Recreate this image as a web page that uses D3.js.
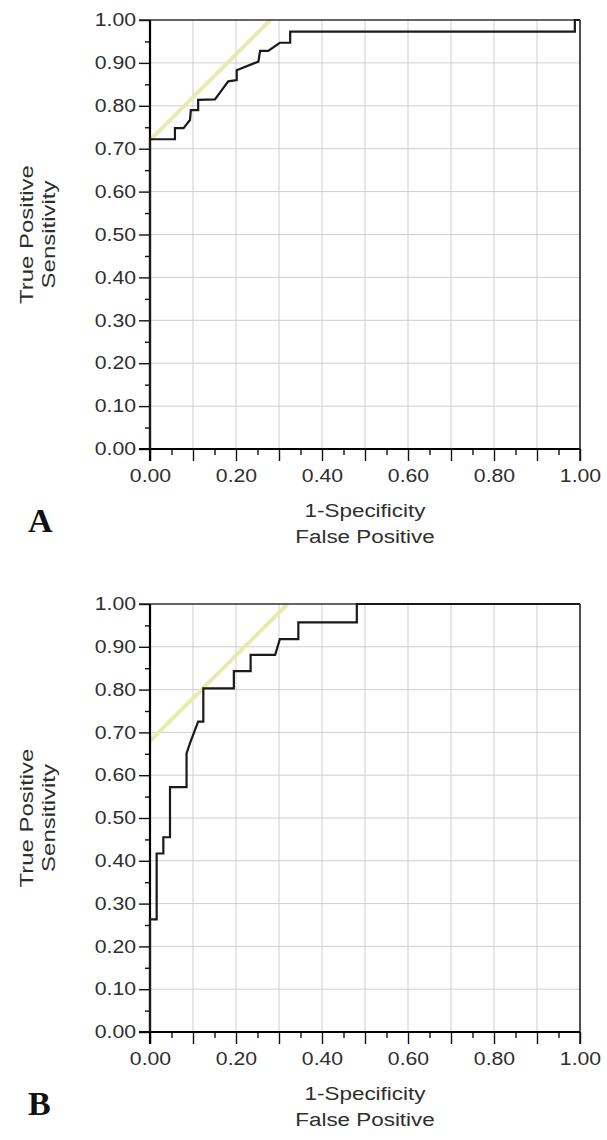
<!DOCTYPE html>
<html><head><meta charset="utf-8">
<script src="https://cdn.jsdelivr.net/npm/d3@7"></script>
<style>
html,body{margin:0;padding:0;background:#fff;}
svg{display:block;}
</style></head>
<body>
<script>
// ---- data ----
const majorTicks = [0,0.1,0.2,0.3,0.4,0.5,0.6,0.7,0.8,0.9,1.0];
const minorTicks = [0.05,0.15,0.25,0.35,0.45,0.55,0.65,0.75,0.85,0.95];
const xLabelTicks = [0,0.2,0.4,0.6,0.8,1.0];
const yLabelTicks = [0,0.1,0.2,0.3,0.4,0.5,0.6,0.7,0.8,0.9,1.0];

const rocA_fpr = [0,0,0.058,0.058,0.078,0.093,0.095,0.112,0.112,0.151,0.182,0.2016,0.2016,0.252,0.256,0.275,0.302,0.326,0.326,0.988,0.988,1];
const rocA_tpr = [0,0.722,0.722,0.748,0.748,0.767,0.790,0.790,0.814,0.815,0.857,0.860,0.883,0.903,0.928,0.928,0.947,0.947,0.973,0.973,1.0,1.0];
const rocB_fpr = [0,0,0.0155,0.0155,0.031,0.031,0.0465,0.0465,0.085,0.085,0.093,0.112,0.124,0.124,0.195,0.195,0.234,0.234,0.291,0.302,0.345,0.345,0.481,0.481,1];
const rocB_tpr = [0,0.263,0.263,0.417,0.417,0.455,0.455,0.572,0.572,0.651,0.675,0.725,0.725,0.803,0.803,0.843,0.843,0.881,0.881,0.918,0.918,0.957,0.957,1.0,1.0];
const tangentA = 0.72;   // intercept of 45° tangent line
const tangentB = 0.68;

const panels = [
  {letter:"A", fpr:rocA_fpr, tpr:rocA_tpr, c:tangentA, top:20, bottom:449},
  {letter:"B", fpr:rocB_fpr, tpr:rocB_tpr, c:tangentB, top:604, bottom:1032}
];

const W = 607, H = 1140;
const svg = d3.select("body").append("svg").attr("width",W).attr("height",H);
const left = 150, right = 580;
const SX = 1.18; // horizontal stretch of text
const SANS = '"Liberation Sans",Arial,sans-serif';
const SERIF = '"Liberation Serif","Times New Roman",serif';

panels.forEach(p => {
  const x = d3.scaleLinear().domain([0,1]).range([left,right]);
  const y = d3.scaleLinear().domain([0,1]).range([p.bottom,p.top]);
  const g = svg.append("g");

  // grid
  g.selectAll(".gx").data(majorTicks.slice(1,-1)).join("line")
    .attr("x1",d=>x(d)).attr("x2",d=>x(d)).attr("y1",y(0)).attr("y2",y(1))
    .attr("stroke","#cfcfcf").attr("stroke-width",1);
  g.selectAll(".gy").data(majorTicks.slice(1,-1)).join("line")
    .attr("y1",d=>y(d)).attr("y2",d=>y(d)).attr("x1",x(0)).attr("x2",x(1))
    .attr("stroke","#cfcfcf").attr("stroke-width",1);

  // tangent line (45°)
  g.append("line")
    .attr("x1",x(0)).attr("y1",y(p.c)).attr("x2",x(1-p.c)).attr("y2",y(1))
    .attr("stroke","#e8eab0").attr("stroke-width",4).attr("stroke-linecap","butt");

  // frame top/right
  g.append("line").attr("x1",x(0)-11).attr("x2",x(1)).attr("y1",y(1)).attr("y2",y(1))
    .attr("stroke","#333").attr("stroke-width",1.6);
  g.append("line").attr("x1",x(1)).attr("x2",x(1)).attr("y1",y(1)).attr("y2",y(0)+12)
    .attr("stroke","#222").attr("stroke-width",1.6);

  // axes
  const yAxis = d3.axisLeft(y).tickValues(yLabelTicks).tickSize(11).tickPadding(3)
    .tickFormat(d3.format(".2f"));
  const yMinor = d3.axisLeft(y).tickValues(minorTicks).tickSize(5).tickFormat("");
  const xAxis = d3.axisBottom(x).tickValues(majorTicks).tickSize(12).tickPadding(8)
    .tickFormat(d => xLabelTicks.some(v=>Math.abs(v-d)<1e-9) ? d3.format(".2f")(d) : "");
  const xMinor = d3.axisBottom(x).tickValues(minorTicks).tickSize(6).tickFormat("");

  [yAxis,yMinor].forEach(a => {
    const ag = g.append("g").attr("transform",`translate(${left},0)`).call(a);
    ag.select(".domain").remove();
    ag.selectAll("line").attr("stroke","#111").attr("stroke-width",1.4);
  });
  [xAxis,xMinor].forEach(a => {
    const ag = g.append("g").attr("transform",`translate(0,${p.bottom})`).call(a);
    ag.select(".domain").remove();
    ag.selectAll("line").attr("stroke","#111").attr("stroke-width",1.4);
  });
  g.selectAll(".tick text").style("font-size","18px").style("fill","#2e2e2e")
    .style("font-family",SANS);
  g.selectAll(".tick text").each(function(){
    const t = d3.select(this);
    const xx = +t.attr("x")||0;
    t.attr("transform",`translate(${xx},0) scale(${SX},1) translate(${-xx},0)`);
  });

  g.append("line").attr("x1",x(0)).attr("x2",x(0)).attr("y1",y(1)).attr("y2",y(0)+12)
    .attr("stroke","#000").attr("stroke-width",2.2);
  g.append("line").attr("x1",x(0)-11).attr("x2",x(1)).attr("y1",y(0)).attr("y2",y(0))
    .attr("stroke","#000").attr("stroke-width",2.2);

  // ROC curve
  const pts = p.fpr.map((f,i)=>[f,p.tpr[i]]);
  g.append("path").datum(pts)
    .attr("d", d3.line().x(d=>x(d[0])).y(d=>y(d[1])))
    .attr("fill","none").attr("stroke","#1a1a1a").attr("stroke-width",2.2)
    .attr("stroke-linejoin","miter");

  // titles
  const cx = (left+right)/2, cy = (p.top+p.bottom)/2;
  const xt = g.append("g").attr("transform",`translate(${cx},${p.bottom+68}) scale(${SX},1)`);
  xt.append("text").attr("text-anchor","middle").style("font-size","19px").style("font-family",SANS)
    .style("fill","#2e2e2e").text("1-Specificity");
  xt.append("text").attr("text-anchor","middle").style("font-size","19px").style("font-family",SANS)
    .style("fill","#2e2e2e").attr("y",26).text("False Positive");

  const yt = g.append("g").attr("transform",`translate(33,${cy}) rotate(-90) scale(1.26,1)`);
  yt.append("text").attr("text-anchor","middle").style("font-size","19px").style("font-family",SANS)
    .style("fill","#2e2e2e").text("True Positive");
  yt.append("text").attr("text-anchor","middle").style("font-size","19px").style("font-family",SANS)
    .style("fill","#2e2e2e").attr("y",22).text("Sensitivity");

  g.append("text").attr("x",28).attr("y",p.bottom+83)
    .style("font-family",SERIF)
    .style("font-weight","bold").style("font-size","34px").style("fill","#111").text(p.letter);
});
</script>
</body></html>
